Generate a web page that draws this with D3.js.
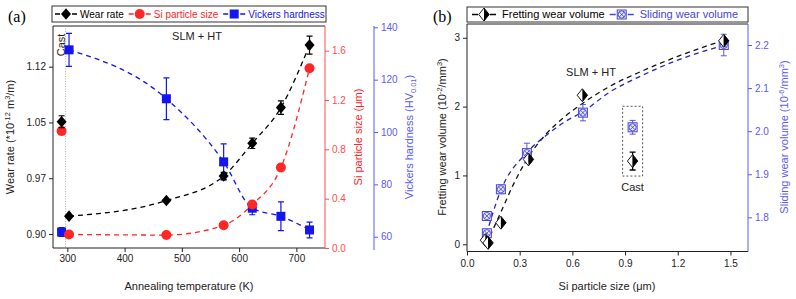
<!DOCTYPE html>
<html>
<head>
<meta charset="utf-8">
<script src="https://cdn.jsdelivr.net/npm/d3@7"></script>
<style>
  body { margin: 0; background: #fff; }
  svg { display: block; font-family: Arial, 'Liberation Sans', sans-serif; }
  .tick text { font-size: 10px; }
</style>
</head>
<body>
<svg id="chart" width="796" height="299"></svg>
<script>
// Panel (a): annealed SLM samples
const tempA = [303, 473, 573, 623, 673, 723]
const wearA = [0.924, 0.945, 0.978, 1.022, 1.070, 1.154]
const wearErrA = [0, 0, 0.005, 0.007, 0.009, 0.012]
const siA = [0.110, 0.105, 0.184, 0.352, 0.652, 1.458]
const siErrA = [0, 0, 0, 0, 0, 0]
const hvA = [131.4, 112.7, 88.6, 70.9, 67.8, 62.6]
const hvErrA = [6.3, 8.0, 6.9, 2.5, 5.5, 3.0]

// Panel (a): cast reference sample
const castTempA = 290
const castLineTempA = 297
const castWearA = [1.051, 0.008]
const castSiA = [0.949, 0.03]
const castHvA = [61.8, 1.7]

// Panel (a): axes
const tempTicksA = [300, 400, 500, 600, 700]
const wearTicksA = [0.90, 0.975, 1.05, 1.125]
const wearTickLabelsA = ['0.90', '0.97', '1.05', '1.12']
const siTicksA = [0, 0.4, 0.8, 1.2, 1.6]
const hvTicksA = [60, 80, 100, 120, 140]
const legendA = ['Wear rate', 'Si particle size', 'Vickers hardness']

// Panel (b): wear volume vs Si particle size
const siFretB = [0.105, 0.120, 0.193, 0.350, 0.657, 1.462]
const fretB = [0.06, 0.02, 0.313, 1.233, 2.165, 2.955]
const fretErrB = [0, 0, 0, 0.04, 0, 0.04]
const siSlideB = [0.113, 0.113, 0.193, 0.341, 0.660, 1.462]
const slideB = [1.763, 1.803, 1.865, 1.949, 2.043, 2.200]
const slideErrB = [0.008, 0.010, 0.010, 0.023, 0.019, 0.025]

// Panel (b): cast sample
const castSiB = 0.943
const castFretB = [1.209, 0.13]
const castSlideB = [2.009, 0.016]

// Panel (b): dashed fit curves
const fitFretX = [0.11, 0.19, 0.27, 0.35, 0.45, 0.55, 0.66, 0.81, 1.0, 1.2, 1.47]
const fitFretY = [0.0, 0.45, 0.9, 1.27, 1.6, 1.84, 2.05, 2.29, 2.52, 2.73, 2.97]
const fitSlideX = [0.11, 0.19, 0.34, 0.45, 0.55, 0.66, 0.81, 1.0, 1.2, 1.47]
const fitSlideY = [1.76, 1.86, 1.95, 1.99, 2.02, 2.045, 2.09, 2.13, 2.165, 2.2]

// Panel (b): axes
const siTicksB = [0, 0.3, 0.6, 0.9, 1.2, 1.5]
const fretTicksB = [0, 1, 2, 3]
const slideTicksB = [1.8, 1.9, 2.0, 2.1, 2.2]
const legendB = ['Fretting wear volume', 'Sliding wear volume']

const C = {
  ink: '#222',
  red: '#ff2626',
  redAxis: '#ff4d4d',
  blue: '#1515f0',
  blueAxis: '#5b5bf5',
  slide: '#4646d6',
  fitBlue: '#2323c8'
}

const svg = d3.select('#chart')

// Helpers
// -------

const diamond = (w, h) => `M0,${-h}L${w},0L0,${h}L${-w},0Z`

function marker(g, kind, cx, cy, color) {
  let m = g.append('g').attr('transform', `translate(${cx},${cy})`)
  if (kind === 'diamond') {
    m.append('path').attr('d', diamond(5, 5.8)).attr('fill', color)
  } else if (kind === 'circle') {
    m.append('circle').attr('r', 5).attr('fill', color)
  } else if (kind === 'square') {
    m.append('rect').attr('x', -4.5).attr('y', -4.5).attr('width', 9).attr('height', 9).attr('fill', color)
  } else if (kind === 'half') {
    m.append('path').attr('d', `M0,-6.5L-5.2,0L0,6.5Z`).attr('fill', '#fff')
    m.append('path').attr('d', `M0,-6.5L5.2,0L0,6.5Z`).attr('fill', '#000')
    m.append('path').attr('d', diamond(5.2, 6.5)).attr('fill', 'none')
      .attr('stroke', '#000').attr('stroke-width', 0.9)
  } else if (kind === 'crossbox') {
    m.append('rect').attr('x', -4.5).attr('y', -4.5).attr('width', 9).attr('height', 9)
      .attr('fill', '#e8e8fb').attr('stroke', color).attr('stroke-width', 1)
    m.append('circle').attr('r', 3.6).attr('fill', 'none').attr('stroke', color).attr('stroke-width', 0.9)
    m.append('path').attr('d', 'M-2.5,-2.5L2.5,2.5M-2.5,2.5L2.5,-2.5')
      .attr('stroke', color).attr('stroke-width', 0.9)
  }
}

function errorBar(g, cx, yTop, yBot, color, width) {
  g.append('path')
    .attr('d', `M${cx},${yTop}V${yBot}M${cx - 3},${yTop}H${cx + 3}M${cx - 3},${yBot}H${cx + 3}`)
    .attr('stroke', color).attr('stroke-width', width || 1.1).attr('fill', 'none')
}

// text with super/subscripts, parts = [[text, 'sup' | 'sub' | undefined]]
function richText(sel, parts, size) {
  let shift = 0
  parts.forEach(([t, kind]) => {
    let target = kind === 'sup' ? -size * 0.38 : kind === 'sub' ? size * 0.3 : 0
    let ts = sel.append('tspan').text(t).attr('dy', target - shift)
    if (kind) ts.attr('font-size', size * 0.68)
    shift = target
  })
}

function axisLabel(x, y, rotate, parts, color, size) {
  let t = svg.append('text')
    .attr('transform', `translate(${x},${y})` + (rotate ? ' rotate(-90)' : ''))
    .attr('text-anchor', 'middle')
    .attr('font-size', size)
    .attr('fill', color)
  richText(t, parts, size)
  return t
}

function styleAxis(g, color) {
  g.select('.domain').remove()
  g.selectAll('.tick line').attr('stroke', color)
  g.selectAll('.tick text').attr('fill', color)
}

function legend(items, kinds, colors, x0, y, fontSize, m, t, box) {
  let g = svg.append('g')
  let x = x0
  items.forEach((name, i) => {
    g.append('path')
      .attr('d', `M${x + 1},${y}H${x + m - 6}M${x + m + 6},${y}H${x + 2 * m - 1}`)
      .attr('stroke', colors[i]).attr('stroke-width', 1.3)
    marker(g, kinds[i], x + m, y, colors[i])
    let txt = g.append('text')
      .attr('x', x + t).attr('y', y + fontSize * 0.36)
      .attr('font-size', fontSize).attr('fill', colors[i])
      .text(name)
    x = x + t + txt.node().getComputedTextLength() + 4
  })
  g.insert('rect', ':first-child')
    .attr('x', box[0]).attr('y', box[1]).attr('width', box[2] - box[0]).attr('height', box[3] - box[1])
    .attr('fill', '#fff').attr('stroke', '#333').attr('stroke-width', 1)
}

// Panel (a)
// ---------

let xA = d3.scaleLinear().domain([275, 750]).range([53, 325])
let yWear = d3.scaleLinear().domain([0.8812, 1.1797]).range([248, 26])
let ySi = d3.scaleLinear().domain([0, 1.8]).range([248, 26])
let yHv = d3.scaleLinear().domain([55.7, 140.5]).range([248, 26])

let gA = svg.append('g')

gA.append('g').attr('transform', 'translate(0,248)')
  .call(d3.axisBottom(xA).tickValues(tempTicksA).tickSize(4).tickPadding(3))
  .call(g => styleAxis(g, C.ink))
gA.append('g').attr('transform', 'translate(53,0)')
  .call(d3.axisLeft(yWear).tickValues(wearTicksA).tickFormat((d, i) => wearTickLabelsA[i]).tickSize(4).tickPadding(3))
  .call(g => styleAxis(g, C.ink))
gA.append('g').attr('transform', 'translate(325,0)')
  .call(d3.axisRight(ySi).tickValues(siTicksA).tickFormat(d3.format('.1f')).tickSize(4).tickPadding(3))
  .call(g => styleAxis(g, C.redAxis))
gA.append('g').attr('transform', 'translate(374,0)')
  .call(d3.axisRight(yHv).tickValues(hvTicksA).tickSize(4).tickPadding(3))
  .call(g => styleAxis(g, C.blueAxis))

// frame
gA.append('path').attr('d', 'M325,26H53V248H325').attr('fill', 'none').attr('stroke', C.ink)
gA.append('line').attr('x1', 325).attr('x2', 325).attr('y1', 26).attr('y2', 248).attr('stroke', C.redAxis)
gA.append('line').attr('x1', 374).attr('x2', 374).attr('y1', 26).attr('y2', 250).attr('stroke', C.blueAxis)

// cast divider
gA.append('line')
  .attr('x1', xA(castLineTempA)).attr('x2', xA(castLineTempA))
  .attr('y1', 26).attr('y2', 248)
  .attr('stroke', '#999').attr('stroke-width', 0.8).attr('stroke-dasharray', '1,1.5')
gA.append('text')
  .attr('transform', `translate(${xA(castTempA) + 3},45) rotate(-90)`)
  .attr('text-anchor', 'middle').attr('font-size', 11).attr('fill', C.ink)
  .text('Cast')
gA.append('text')
  .attr('x', 197).attr('y', 40)
  .attr('text-anchor', 'middle').attr('font-size', 11).attr('fill', C.ink)
  .text('SLM + HT')

let seriesA = [
  { vals: hvA, errs: hvErrA, y: yHv, color: C.blue, kind: 'square', cast: castHvA },
  { vals: siA, errs: siErrA, y: ySi, color: C.red, kind: 'circle', cast: castSiA },
  { vals: wearA, errs: wearErrA, y: yWear, color: '#000', kind: 'diamond', cast: castWearA }
]

seriesA.forEach(s => {
  let line = d3.line()
    .x((d, i) => xA(tempA[i]))
    .y(d => s.y(d))
    .curve(d3.curveMonotoneX)
  gA.append('path')
    .attr('d', line(s.vals))
    .attr('fill', 'none').attr('stroke', s.color)
    .attr('stroke-width', 1.3).attr('stroke-dasharray', '5,4')
})

seriesA.forEach(s => {
  s.vals.forEach((v, i) => {
    if (s.errs[i] > 0) errorBar(gA, xA(tempA[i]), s.y(v + s.errs[i]), s.y(v - s.errs[i]), s.color, 1.2)
    marker(gA, s.kind, xA(tempA[i]), s.y(v), s.color)
  })
  errorBar(gA, xA(castTempA), s.y(s.cast[0] + s.cast[1]), s.y(s.cast[0] - s.cast[1]), s.color, 1.2)
  marker(gA, s.kind, xA(castTempA), s.y(s.cast[0]), s.color)
})

axisLabel(14, 137, true, [['Wear rate (*10'], ['-12', 'sup'], [' m'], ['3', 'sup'], ['/m)']], C.ink, 11)
axisLabel(362, 137, true, [['Si particle size (μm)']], C.red, 11)
axisLabel(413, 137, true, [['Vickers hardness (HV'], ['0.01', 'sub'], [')']], C.blueAxis, 11)
axisLabel(189, 290, false, [['Annealing temperature (K)']], C.ink, 11)

svg.append('text').attr('x', 8).attr('y', 22)
  .attr('font-family', "'Liberation Serif', 'DejaVu Serif', serif").attr('font-size', 16)
  .text('(a)')

legend(legendA, ['diamond', 'circle', 'square'], ['#000', C.red, C.blue], 54, 14, 10, 12, 26, [52, 6, 326, 22])

// Panel (b)
// ---------

let xB = d3.scaleLinear().domain([0, 1.6]).range([467, 748])
let yFret = d3.scaleLinear().domain([-0.105, 3.2]).range([251.5, 24])
let ySlide = d3.scaleLinear().domain([1.7206, 2.2488]).range([251.5, 24])

let gB = svg.append('g')

gB.append('g').attr('transform', 'translate(0,251.5)')
  .call(d3.axisBottom(xB).tickValues(siTicksB).tickFormat(d3.format('.1f')).tickSize(4).tickPadding(4))
  .call(g => styleAxis(g, C.ink))
gB.append('g').attr('transform', 'translate(467,0)')
  .call(d3.axisLeft(yFret).tickValues(fretTicksB).tickFormat(d3.format('d')).tickSize(4).tickPadding(3))
  .call(g => styleAxis(g, C.ink))
gB.append('g').attr('transform', 'translate(748,0)')
  .call(d3.axisRight(ySlide).tickValues(slideTicksB).tickFormat(d3.format('.1f')).tickSize(4).tickPadding(3))
  .call(g => styleAxis(g, C.blueAxis))

gB.append('path').attr('d', 'M748,24H467V251.5H748').attr('fill', 'none').attr('stroke', C.ink)
gB.append('line').attr('x1', 748).attr('x2', 748).attr('y1', 24).attr('y2', 251.5).attr('stroke', C.blueAxis)

// fit curves
let fitLine = (xs, y) => d3.line().x((d, i) => xB(xs[i])).y(d => y(d)).curve(d3.curveMonotoneX)
gB.append('path').attr('d', fitLine(fitFretX, yFret)(fitFretY))
  .attr('fill', 'none').attr('stroke', '#111').attr('stroke-width', 1.3).attr('stroke-dasharray', '5,4')
gB.append('path').attr('d', fitLine(fitSlideX, ySlide)(fitSlideY))
  .attr('fill', 'none').attr('stroke', C.fitBlue).attr('stroke-width', 1.3).attr('stroke-dasharray', '5,4')

// cast box
let boxL = xB(castSiB) - 10, boxR = xB(castSiB) + 10
let boxT = ySlide(castSlideB[0]) - 21, boxB = yFret(castFretB[0]) + 15
gB.append('rect')
  .attr('x', boxL).attr('y', boxT).attr('width', boxR - boxL).attr('height', boxB - boxT)
  .attr('fill', 'none').attr('stroke', '#555').attr('stroke-width', 1).attr('stroke-dasharray', '2,2')
gB.append('text').attr('x', xB(castSiB)).attr('y', boxB + 15)
  .attr('text-anchor', 'middle').attr('font-size', 11).attr('fill', C.ink).text('Cast')
gB.append('text').attr('x', 591).attr('y', 76)
  .attr('text-anchor', 'middle').attr('font-size', 11).attr('fill', C.ink).text('SLM + HT')

// sliding markers
siSlideB.forEach((s, i) => {
  errorBar(gB, xB(s), ySlide(slideB[i] + slideErrB[i]), ySlide(slideB[i] - slideErrB[i]), C.slide, 0.9)
  marker(gB, 'crossbox', xB(s), ySlide(slideB[i]), C.slide)
})
errorBar(gB, xB(castSiB), ySlide(castSlideB[0] + castSlideB[1]), ySlide(castSlideB[0] - castSlideB[1]), C.slide, 0.9)
marker(gB, 'crossbox', xB(castSiB), ySlide(castSlideB[0]), C.slide)

// fretting markers
siFretB.forEach((s, i) => {
  if (fretErrB[i] > 0) errorBar(gB, xB(s), yFret(fretB[i] + fretErrB[i]), yFret(fretB[i] - fretErrB[i]), '#000', 1.1)
  marker(gB, 'half', xB(s), yFret(fretB[i]), '#000')
})
errorBar(gB, xB(castSiB), yFret(castFretB[0] + castFretB[1]), yFret(castFretB[0] - castFretB[1]), '#000', 1.3)
marker(gB, 'half', xB(castSiB), yFret(castFretB[0]), '#000')

axisLabel(446, 137, true, [['Fretting wear volume (10'], ['-2', 'sup'], ['/mm'], ['3', 'sup'], [')']], C.ink, 11)
axisLabel(788, 137, true, [['Sliding wear volume (10'], ['-6', 'sup'], ['/mm'], ['3', 'sup'], [')']], C.blueAxis, 11)
axisLabel(607, 290, false, [['Si particle size (μm)']], C.ink, 11)

svg.append('text').attr('x', 433).attr('y', 22)
  .attr('font-family', "'Liberation Serif', 'DejaVu Serif', serif").attr('font-size', 16)
  .text('(b)')

legend(legendB, ['half', 'crossbox'], ['#000', C.slide], 471, 14.5, 11, 13, 31, [467, 7, 748, 22])
</script>
</body>
</html>
